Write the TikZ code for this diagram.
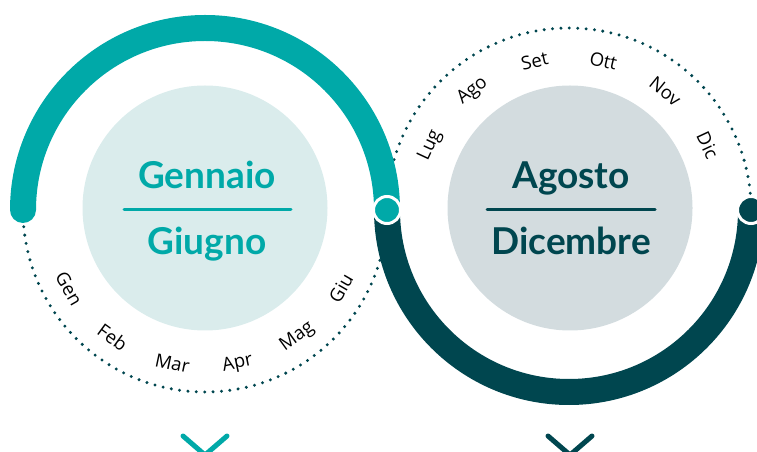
\documentclass[tikz,border=0pt]{standalone}
\usepackage{fontspec}
\setmainfont{Lato}
\newfontfamily\monthfont{Open Sans}
\usetikzlibrary{calc}
\definecolor{tealA}{HTML}{00A9A8}
\definecolor{darkA}{HTML}{00464F}
\definecolor{lightC}{HTML}{DAECEC}
\definecolor{greyC}{HTML}{D3DCDF}
\begin{document}
\begin{tikzpicture}[x=1pt,y=1pt,
  thickarc/.style={line width=26pt},
  dotarc/.style={darkA, line width=3.3pt, line cap=round, dash pattern=on 0pt off 8.4pt},
  month/.style={font=\monthfont\fontsize{18.5}{18.5}\selectfont, text=black, inner sep=0pt},
  bigtext/.style={font=\fontsize{37}{37}\selectfont\bfseries, anchor=base, inner sep=0pt},
  marker/.style={circle, draw=white, line width=3pt, minimum size=27pt, inner sep=0pt},
  rule/.style={line width=3pt, line cap=round},
  chevron/.style={line width=5pt, line cap=round, line join=round}]
\useasboundingbox (0,0) rectangle (757,452);
\clip (0,0) rectangle (757,452);
\coordinate (L) at (205,242);
\coordinate (R) at (569,242);
% inner discs
\fill[lightC] (205,244) circle (122.5);
\fill[greyC] (570,244) circle (122.5);
% dotted halves
\draw[dotarc] (L) ++(180:182) arc (180:360:182);
\draw[dotarc] (R) ++(0:182) arc (0:180:182);
% thick halves
\draw[thickarc, darkA] (R) ++(180:182) arc (180:360:182);
\draw[thickarc, tealA, line cap=round] (L) ++(180:182) arc (180:0:182);
% end markers
\node[marker, fill=tealA] (m1) at (387,242) {};
\node[marker, fill=darkA] (m2) at (751,242) {};
% central texts
\node[bigtext, text=tealA] (t1) at (207,263) {Gennaio};
\draw[rule, tealA] (124,242) -- (291,242);
\node[bigtext, text=tealA] (t2) at (207,197) {Giugno};
\node[bigtext, text=darkA] (t3) at (571,263) {Agosto};
\draw[rule, darkA] (487,242) -- (655,242);
\node[bigtext, text=darkA] (t4) at (571,197) {Dicembre};
% months
\foreach \n [count=\i from 0] in {Gen,Feb,Mar,Apr,Mag,Giu} {
  \pgfmathsetmacro\a{210+24*\i}
  \pgfmathsetmacro\r{\a+90}
  \node[month, rotate=\r] (lm\i) at ($(L)+(\a:157)$) {\n};
}
\foreach \n [count=\i from 0] in {Lug,Ago,Set,Ott,Nov,Dic} {
  \pgfmathsetmacro\a{155-26*\i}
  \pgfmathsetmacro\r{\a-90}
  \node[month, rotate=\r] (rm\i) at ($(R)+(\a:153)$) {\n};
}
% chevrons
\draw[chevron, tealA] (183,16) -- (205,-3) -- (227,16);
\draw[chevron, darkA] (548,16) -- (570,-3) -- (592,16);
\end{tikzpicture}
\end{document}
